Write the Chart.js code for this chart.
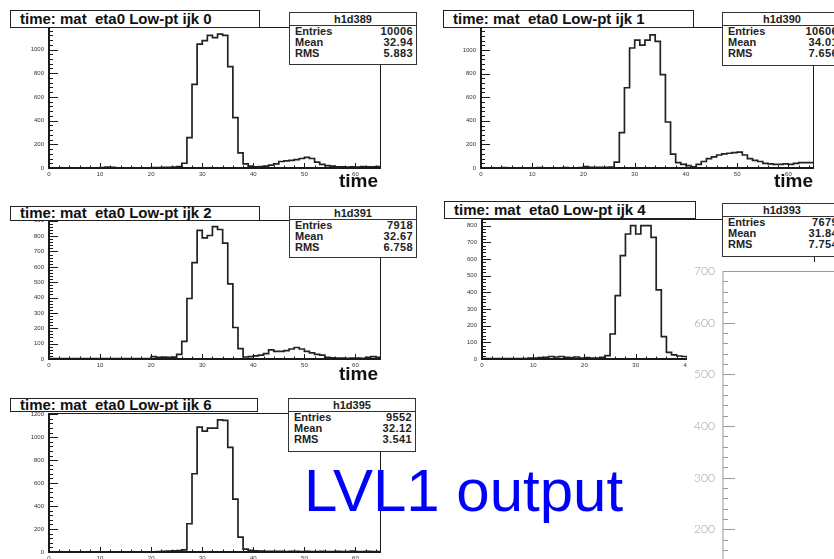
<!DOCTYPE html>
<html>
<head>
<meta charset="UTF-8">
<title>LVL1 output - time: mat eta0 Low-pt</title>
<script src="https://cdn.jsdelivr.net/npm/chart.js@4/dist/chart.umd.min.js"></script>
<style>
  html, body { margin: 0; padding: 0; background: #fff; overflow: hidden; }
  #page { position: relative; width: 834px; height: 559px; overflow: hidden; background: #fff; }
  #page canvas { position: absolute; }
  .title {
    position: absolute; box-sizing: border-box; border: 1.5px solid #222; background: #fff;
    font: bold 15px "Liberation Sans", Arial, sans-serif; color: #111;
    padding-left: 9px; white-space: pre; overflow: hidden;
  }
  .stats {
    position: absolute; box-sizing: border-box; border: 1.5px solid #333; background: #fff;
    font: bold 11px "Liberation Sans", Arial, sans-serif; color: #222; white-space: nowrap;
  }
  .stats .hd { height: 12px; line-height: 12px; text-align: center; border-bottom: 1px solid #333; }
  .stats .row { position: relative; height: 11px; line-height: 11px; }
  .stats .row .k { position: absolute; left: 5px; }
  .stats .row .v { position: absolute; right: 3px; letter-spacing: 0.4px; }
  .axtitle {
    position: absolute; width: 60px; text-align: right;
    font: bold 19px "Liberation Sans", Arial, sans-serif; line-height: 19px; color: #111;
  }
  #side-bg { position: absolute; left: 687px; top: 262px; width: 147px; height: 297px; background: #fff; }
  #caption {
    position: absolute; left: 304px; top: 461px; white-space: nowrap;
    font: 60px "Liberation Sans", Arial, sans-serif; line-height: 60px; color: #0000ff;
  }
</style>
</head>
<body>
<div id="page"></div>

<script>
    // bin contents, one bin per unit of time, starting at time 0
    const countsIjk0 = [
        2, 1, 1, 2, 1, 2, 1, 1, 2, 1,
        3, 8, 5, 2, 1, 1, 2, 1, 2, 1,
        3, 4, 5, 6, 8, 12, 40,
        256, 705, 1045, 1075, 1120, 1100, 1130, 1120, 855, 425, 128, 35,
        15, 10, 12, 15, 25, 35, 55, 60, 65, 70, 80, 90, 80,
        50, 30, 20, 15, 10, 10, 8, 10, 8, 12, 10, 10, 12
    ];
    const countsIjk1 = [
        2, 2, 1, 2, 3, 2, 2, 1, 2, 2,
        2, 3, 2, 1, 2, 2, 3, 2, 2, 3,
        12, 6, 5, 6, 5, 8, 50,
        300, 680, 1017, 1084, 1042, 1084, 1129, 1073, 792, 390, 118, 45,
        30, 20, 10, 30, 55, 80, 95, 110, 120, 125, 130, 135, 110,
        80, 65, 55, 40, 35, 30, 30, 35, 30, 40, 45, 45, 45
    ];
    const countsIjk2 = [
        2, 3, 2, 2, 3, 2, 2, 2, 3, 2,
        2, 2, 3, 2, 2, 2, 2, 2, 2, 3,
        15, 10, 12, 10, 12, 30, 115,
        394, 627, 838, 789, 804, 862, 843, 754, 489, 205, 67, 13,
        15, 20, 25, 35, 60, 50, 50, 55, 65, 75, 65, 50, 40,
        30, 25, 10, 8, 6, 6, 5, 6, 6, 5, 10, 15, 10
    ];
    const countsIjk4 = [
        2, 3, 2, 2, 3, 2, 3, 3, 2, 5,
        5, 8, 10, 15, 12, 15, 10, 8, 12, 5,
        8, 6, 5, 10, 20,
        150, 380, 620, 750, 800, 750, 800, 800, 730, 415, 134, 40,
        25, 18, 15, 12, 10, 10
    ];
    const countsIjk6 = [
        2, 2, 1, 2, 2, 1, 2, 2, 1, 2,
        2, 1, 2, 2, 1, 2, 2, 2, 1, 2,
        2, 3, 5, 8, 10, 12, 18,
        246, 681, 1087, 1052, 1078, 1078, 1150, 1145, 910, 460, 130, 25,
        15, 10, 8, 6, 5, 5, 5, 4, 5, 5, 4, 5, 4,
        4, 5, 4, 4, 5, 4, 3, 8, 4, 4, 5, 4, 4
    ];

    const histNames = ['h1d389', 'h1d390', 'h1d391', 'h1d393', 'h1d395'];
    const ijkValues = [0, 1, 2, 4, 6];
    const statEntries = ['10006', '10606', '7918', '7679', '9552'];
    const statMean = ['32.94', '34.01', '32.67', '31.84', '32.12'];
    const statRms = ['5.883', '7.656', '6.758', '7.754', '3.541'];

    // tick labels
    const xTicks = [0, 10, 20, 30, 40, 50, 60];
    const yTicksBy200 = [0, 200, 400, 600, 800, 1000, 1200];
    const yTicksBy100 = [0, 100, 200, 300, 400, 500, 600, 700, 800, 900];
    const sideTicks = [100, 200, 300, 400, 500, 600, 700];

    const FONT = '"Liberation Sans", Arial, sans-serif';

    // frame = [left, top, right, bottom] of the plot box on the page
    const panels = [
        {counts: countsIjk0, yMax: 1190, yTicks: yTicksBy200, yMinor: 40,
         frame: [49, 27, 381, 168], titleBox: [10, 10, 250, 18], statsBox: [289, 12, 128, 53], axTitle: [378, 171]},
        {counts: countsIjk1, yMax: 1195, yTicks: yTicksBy200, yMinor: 40,
         frame: [481, 27, 814, 168], titleBox: [443, 10, 251, 18], statsBox: [722, 12, 120, 54], axTitle: [813, 171]},
        {counts: countsIjk2, yMax: 905, yTicks: yTicksBy100, yMinor: 20,
         frame: [49, 220, 381, 359], titleBox: [10, 206, 250, 15], statsBox: [289, 206, 128, 52], axTitle: [378, 364]},
        {counts: countsIjk4, yMax: 840, yTicks: yTicksBy100, yMinor: 20,
         frame: [482, 219, 815, 359], titleBox: [444, 201, 252, 18], statsBox: [722, 203, 120, 54], axTitle: null},
        {counts: countsIjk6, yMax: 1210, yTicks: yTicksBy200, yMinor: 40,
         frame: [49, 413, 381, 552], titleBox: [10, 398, 248, 14], statsBox: [288, 398, 128, 54], axTitle: null}
    ];

    const setTicks = values => scale => {
        scale.ticks = values.filter(v => v >= scale.min && v <= scale.max).map(v => ({value: v}));
    };
    const plainLabel = v => String(v);

    // ROOT-like frame: ticks pointing into the plot, thick left/bottom axes
    const rootAxes = {
        id: 'rootAxes',
        afterDatasetsDraw(chart, args, o) {
            const {ctx, chartArea: a} = chart;
            const y = chart.scales.y, x = chart.scales.x;
            ctx.save();
            ctx.strokeStyle = o.color;
            ctx.lineWidth = 1;
            ctx.beginPath();
            const nY = Math.round((y.max - y.min) / o.yMinor);
            for (let i = 0; i <= nY; i++) {
                const v = y.min + i * o.yMinor;
                if (v > y.max) break;
                const py = Math.round(y.getPixelForValue(v)) + 0.5;
                const len = v % o.yMajor === 0 ? o.yTick[0] : o.yTick[1];
                ctx.moveTo(a.left, py);
                ctx.lineTo(a.left + len, py);
            }
            if (o.xMinor) {
                const nX = Math.round((x.max - x.min) / o.xMinor);
                for (let i = 0; i <= nX; i++) {
                    const v = x.min + i * o.xMinor;
                    const px = Math.round(x.getPixelForValue(v)) + 0.5;
                    const len = v % o.xMajor === 0 ? o.xTick[0] : o.xTick[1];
                    ctx.moveTo(px, a.bottom);
                    ctx.lineTo(px, a.bottom - len);
                }
            }
            ctx.stroke();

            const sides = o.sides;
            const line = (w, x1, y1, x2, y2) => {
                ctx.lineWidth = w;
                ctx.beginPath();
                ctx.moveTo(x1, y1);
                ctx.lineTo(x2, y2);
                ctx.stroke();
            };
            if (sides.top) line(sides.top, a.left, a.top + 0.5, a.right, a.top + 0.5);
            if (sides.right) line(sides.right, a.right - 0.5, a.top, a.right - 0.5, a.bottom);
            if (sides.left) line(sides.left, a.left, a.top, a.left, a.bottom + 1);
            if (sides.bottom) line(sides.bottom, a.left, a.bottom, a.right, a.bottom);
            ctx.restore();
        }
    };

    function histPoints(counts) {
        const pts = counts.map((c, i) => ({x: i, y: c}));
        pts.push({x: counts.length, y: counts[counts.length - 1]});
        return pts;
    }

    const page = document.getElementById('page');

    function addDiv(cls, box, html) {
        const d = document.createElement('div');
        d.className = cls;
        d.style.left = box[0] + 'px';
        d.style.top = box[1] + 'px';
        if (box[2] !== undefined) d.style.width = box[2] + 'px';
        if (box[3] !== undefined) d.style.height = box[3] + 'px';
        d.innerHTML = html;
        page.appendChild(d);
        return d;
    }

    const Y_AXIS_W = 30, X_AXIS_H = 12, PAD_TOP = 10, PAD_RIGHT = 4;

    panels.forEach((p, k) => {
        const [L, T, R, B] = p.frame;
        const cv = document.createElement('canvas');
        cv.width = (R - L) + Y_AXIS_W + PAD_RIGHT;
        cv.height = (B - T) + PAD_TOP + X_AXIS_H;
        cv.style.left = (L - Y_AXIS_W) + 'px';
        cv.style.top = (T - PAD_TOP) + 'px';
        page.appendChild(cv);

        const yMajor = p.yTicks[1] - p.yTicks[0];
        new Chart(cv, {
            type: 'line',
            data: {
                datasets: [{
                    data: histPoints(p.counts),
                    stepped: 'before',
                    borderColor: '#222',
                    borderWidth: 1.7,
                    pointRadius: 0,
                    fill: false
                }]
            },
            options: {
                responsive: false,
                animation: false,
                layout: {padding: {top: PAD_TOP, right: PAD_RIGHT, bottom: 0, left: 0}},
                scales: {
                    x: {
                        type: 'linear', min: 0, max: 65,
                        afterFit: s => { s.height = X_AXIS_H; },
                        afterBuildTicks: setTicks(xTicks),
                        grid: {display: false, drawTicks: false},
                        border: {display: false},
                        ticks: {maxRotation: 0, autoSkip: false, callback: plainLabel,
                                padding: 3, color: '#333', font: {family: FONT, size: 6}}
                    },
                    y: {
                        type: 'linear', min: 0, max: p.yMax,
                        afterFit: s => { s.width = Y_AXIS_W; },
                        afterBuildTicks: setTicks(p.yTicks),
                        grid: {display: false, drawTicks: false},
                        border: {display: false},
                        ticks: {autoSkip: false, callback: plainLabel,
                                padding: 5, color: '#333', font: {family: FONT, size: 6}}
                    }
                },
                plugins: {
                    legend: {display: false},
                    tooltip: {enabled: false},
                    rootAxes: {
                        color: '#1a1a1a',
                        yMajor: yMajor, yMinor: p.yMinor, yTick: [9, 4],
                        xMajor: xTicks[1] - xTicks[0], xMinor: 2, xTick: [5, 2.5],
                        sides: {top: 1, right: 1, left: 2, bottom: 2}
                    }
                }
            },
            plugins: [rootAxes]
        });

        addDiv('title', p.titleBox, 'time: mat  eta0 Low-pt ijk ' + ijkValues[k])
            .style.lineHeight = (p.titleBox[3] - 3) + 'px';

        addDiv('stats', p.statsBox,
            '<div class="hd">' + histNames[k] + '</div>' +
            '<div class="row"><span class="k">Entries</span><span class="v">' + statEntries[k] + '</span></div>' +
            '<div class="row"><span class="k">Mean</span><span class="v">' + statMean[k] + '</span></div>' +
            '<div class="row"><span class="k">RMS</span><span class="v">' + statRms[k] + '</span></div>');

        if (p.axTitle) addDiv('axtitle', [p.axTitle[0] - 60, p.axTitle[1]], 'time');
    });

    // second plot placed over the lower right corner
    const bg = document.createElement('div');
    bg.id = 'side-bg';
    page.appendChild(bg);

    const SIDE_PAD = 16;
    const side = document.createElement('canvas');
    side.width = 400;
    side.height = 310 + 2 * SIDE_PAD;
    side.style.left = '687px';
    side.style.top = (271 - SIDE_PAD) + 'px';
    page.appendChild(side);

    new Chart(side, {
        type: 'line',
        data: {datasets: []},
        options: {
            responsive: false,
            animation: false,
            layout: {padding: {top: SIDE_PAD, right: 0, bottom: SIDE_PAD, left: 0}},
            scales: {
                x: {type: 'linear', display: false, min: 0, max: 1},
                y: {
                    type: 'linear', min: sideTicks[0], max: sideTicks[sideTicks.length - 1],
                    afterFit: s => { s.width = 36; },
                    afterBuildTicks: setTicks(sideTicks),
                    grid: {display: false, drawTicks: false},
                    border: {display: false},
                    ticks: {padding: 8, color: '#a0a0a0', callback: plainLabel,
                            font: {family: 'Lato, "Liberation Sans", sans-serif', size: 12, weight: 300}}
                }
            },
            plugins: {
                legend: {display: false},
                tooltip: {enabled: false},
                rootAxes: {
                    color: '#9a9a9a',
                    yMajor: sideTicks[1] - sideTicks[0], yMinor: 20, yTick: [12, 5],
                    sides: {top: 1, left: 1}
                }
            }
        },
        plugins: [rootAxes]
    });

    const caption = document.createElement('div');
    caption.id = 'caption';
    caption.textContent = 'LVL1 output';
    page.appendChild(caption);
</script>
</body>
</html>
